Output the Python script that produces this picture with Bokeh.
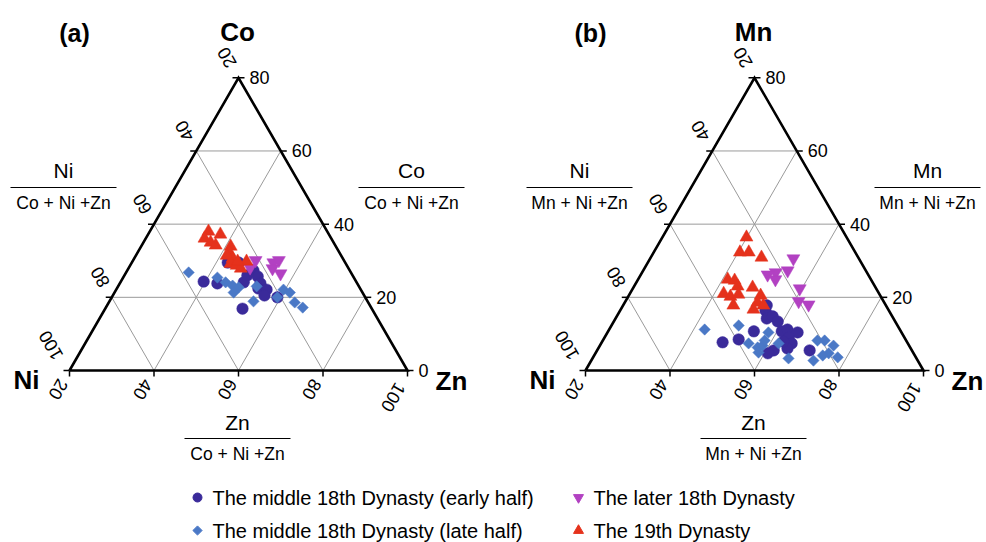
import math
from bokeh.plotting import figure
from bokeh.models import Range1d
from bokeh.core.properties import value
from bokeh.embed import file_html
from bokeh.resources import INLINE

# ---------------- data (percent values read on the ternary axes) ----------------
# Panel (a): Co (right axis) and Zn (bottom axis)
a_early_co = [24.3, 23.8, 29.5, 29.5, 24.1, 27.3, 25.7, 23.8, 22.4, 22.1, 20.5, 20.0, 16.9, 26.0]
a_early_zn = [39.6, 43.1, 42.7, 45.3, 49.2, 49.9, 51.7, 53.3, 53.5, 55.6, 55.9, 59.2, 52.5, 49.1]
a_late_co = [26.8, 25.4, 24.1, 23.2, 22.7, 21.3, 23.0, 18.9, 20.0, 22.1, 21.3, 18.6, 17.2]
a_late_zn = [34.8, 42.3, 44.9, 47.0, 48.7, 48.2, 52.8, 54.1, 59.2, 59.6, 61.5, 64.0, 66.6]
a_later_co = [30.1, 28.1, 29.5, 30.1, 27.9, 26.5]
a_later_zn = [49.0, 48.7, 53.5, 54.5, 54.1, 56.7]
a_19_co = [38.0, 37.2, 36.1, 35.0, 34.2, 33.9, 32.2, 30.6, 29.2, 28.7, 27.9, 29.8, 29.8, 31.4]
a_19_zn = [33.9, 37.1, 33.9, 35.9, 37.5, 41.2, 41.8, 43.3, 43.5, 45.2, 46.6, 47.0, 44.9, 41.5]

# Panel (b): Mn (right axis) and Zn (bottom axis)
b_early_mn = [17.8, 16.4, 15.0, 14.2, 14.8, 13.4, 10.7, 8.5, 7.7, 10.7, 11.2, 10.4, 9.0, 7.4, 6.0, 5.5, 4.7, 5.5, 7.9]
b_early_zn = [54.0, 54.4, 55.8, 55.8, 56.9, 58.8, 54.5, 52.0, 48.6, 61.1, 62.2, 65.0, 63.6, 65.1, 64.8, 61.8, 60.8, 70.3, 62.9]
b_late_mn = [11.2, 12.3, 7.4, 10.4, 6.3, 6.8, 4.9, 7.4, 3.3, 8.2, 8.2, 6.8, 4.7, 4.1, 3.6, 2.7, 8.2]
b_late_zn = [42.6, 50.1, 54.9, 58.1, 57.6, 58.5, 58.5, 62.0, 66.4, 70.8, 72.5, 75.3, 75.2, 74.1, 77.9, 72.6, 58.3]
b_later_mn = [30.6, 27.3, 26.8, 26.2, 24.9, 22.4, 18.9, 18.0]
b_later_zn = [53.9, 54.2, 51.6, 50.0, 52.5, 59.5, 61.0, 63.8]
b_19_mn = [36.4, 32.3, 32.3, 30.9, 24.9, 24.6, 23.0, 22.7, 21.0, 20.2, 20.8, 17.8, 20.5, 18.6, 16.7, 17.8]
b_19_zn = [39.9, 40.4, 42.5, 46.2, 41.2, 43.0, 44.5, 48.2, 42.2, 44.2, 45.8, 46.1, 51.2, 51.4, 51.4, 53.2]

series_names = ["The middle 18th Dynasty (early half)", "The middle 18th Dynasty (late half)",
                "The later 18th Dynasty", "The 19th Dynasty"]
top_ticks = [0, 20, 40, 60, 80]        # right-edge axis (Co / Mn)
left_ticks = [100, 80, 60, 40, 20]     # left-edge axis (Ni)
bottom_ticks = [20, 40, 60, 80, 100]   # bottom axis (Zn)

# ---------------- styling / layout ----------------
COLORS = ["#3a2a9a", "#4a78c6", "#b241c2", "#e5321c"]
MARKERS = ["circle", "square", "inverted_triangle", "triangle"]
SIZES = [11.5, 8, 13, 13]
ANGLES = [0, math.pi / 4, 0, 0]
FONT = value("Liberation Sans")

W, H = 986, 542
S = 4.225              # px per ternary unit
X0 = 20 - 69 / S       # data x at left page edge
YB = 370               # page y of triangle base
H3 = math.sqrt(3) / 2
OFF_A = 0.0
OFF_B = 516 / S


def px(xp):
    return X0 + xp / S


def py(yp):
    return (YB - yp) / S


def pt(c, z, off):
    return z + 0.5 * c + off, c * H3


def tern(cs, zs, off):
    xs = [z + 0.5 * c + off for c, z in zip(cs, zs)]
    ys = [c * H3 for c in cs]
    return xs, ys


p = figure(width=W, height=H, x_range=Range1d(px(0), px(W)), y_range=Range1d(py(H), py(0)),
           x_axis_type=None, y_axis_type=None, toolbar_location=None, output_backend="svg",
           min_border=0, outline_line_color=None)
p.background_fill_color = "white"


def txt(x, y, s, size, bold=False, align="center", baseline="middle", angle=0.0):
    p.text(x=[x], y=[y], text=[s], text_font=FONT, text_font_size=f"{size}px",
           text_font_style="bold" if bold else "normal", text_align=align,
           text_baseline=baseline, angle=angle, text_color="black")


def panel(off, top_el, label, data):
    # grid
    gx0, gy0, gx1, gy1 = [], [], [], []
    for c in [20, 40, 60]:
        a, b = pt(c, 20, off), pt(c, 100 - c, off)
        gx0.append(a[0]); gy0.append(a[1]); gx1.append(b[0]); gy1.append(b[1])
    for z in [40, 60, 80]:
        a, b = pt(0, z, off), pt(100 - z, z, off)
        gx0.append(a[0]); gy0.append(a[1]); gx1.append(b[0]); gy1.append(b[1])
        a, b = pt(0, z, off), pt(z - 20, 20, off)
        gx0.append(a[0]); gy0.append(a[1]); gx1.append(b[0]); gy1.append(b[1])
    p.segment(gx0, gy0, gx1, gy1, line_color="#9a9a9a", line_width=1)

    # ticks
    T = 6 / S
    tx0, ty0, tx1, ty1 = [], [], [], []
    for c in top_ticks:
        x, y = pt(c, 100 - c, off)
        tx0.append(x); ty0.append(y); tx1.append(x + T); ty1.append(y)
        x, y = pt(c, 20, off)
        tx0.append(x); ty0.append(y); tx1.append(x - T); ty1.append(y)
    for z in bottom_ticks:
        x, y = pt(0, z, off)
        tx0.append(x); ty0.append(y); tx1.append(x); ty1.append(y - T)
    p.segment(tx0, ty0, tx1, ty1, line_color="black", line_width=1.5)

    # outline
    cx, cy = zip(pt(0, 20, off), pt(0, 100, off), pt(80, 20, off), pt(0, 20, off))
    p.line(list(cx), list(cy), line_color="black", line_width=2.6, line_join="miter")

    # tick labels
    for c in top_ticks:
        x, y = pt(c, 100 - c, off)
        txt(x + 11 / S, y, str(c), 18, align="left")
    for c, lab in zip(top_ticks, left_ticks):
        x, y = pt(c, 20, off)
        dx, dy = (-19, -25) if lab >= 100 else (-12, -20)
        txt(x + dx / S, y - dy / S, str(lab), 18, angle=2 * math.pi / 3)
    for z in bottom_ticks:
        x, y = pt(0, z, off)
        dx, dy = (-14, 27) if z >= 100 else (-11, 19)
        txt(x + dx / S, y - dy / S, str(z), 18, angle=-2 * math.pi / 3)

    # data
    for i, (cs, zs) in enumerate(data):
        xs, ys = tern(cs, zs, off)
        p.scatter(xs, ys, marker=MARKERS[i], size=SIZES[i], angle=ANGLES[i],
                  fill_color=COLORS[i], line_color=COLORS[i], line_width=0.5)

    # corner labels
    o = off * S
    txt(px(74 + o), py(32), label, 25, bold=True)
    txt(px(237 + o), py(31), top_el, 26, bold=True)
    txt(px(26 + o), py(379), "Ni", 26, bold=True)
    txt(px(451 + o), py(380), "Zn", 26, bold=True)

    # fraction labels
    den = f"{top_el} + Ni +Zn"
    for (cxp, ytop, x0p, x1p, yl, ybot, num) in [
            (63, 170, 10, 116, 187, 202, "Ni"),
            (411, 170, 358, 464, 187, 202, top_el),
            (237, 422, 184, 290, 438, 453, "Zn")]:
        txt(px(cxp + o), py(ytop), num, 21)
        p.line([px(x0p + o), px(x1p + o)], [py(yl), py(yl)], line_color="black", line_width=1)
        txt(px(cxp + o), py(ybot), den, 17.5)


panel(OFF_A, "Co", "(a)", [(a_early_co, a_early_zn), (a_late_co, a_late_zn),
                           (a_later_co, a_later_zn), (a_19_co, a_19_zn)])
panel(OFF_B, "Mn", "(b)", [(b_early_mn, b_early_zn), (b_late_mn, b_late_zn),
                           (b_later_mn, b_later_zn), (b_19_mn, b_19_zn)])

# legend (2 columns x 2 rows)
LEG_POS = [(197, 497), (197, 530), (578, 497), (578, 530)]
LEG_SIZES = [9, 6.5, 10, 10]
for i, name in enumerate(series_names):
    lx, ly = LEG_POS[i]
    p.scatter([px(lx)], [py(ly)], marker=MARKERS[i], size=LEG_SIZES[i], angle=ANGLES[i],
              fill_color=COLORS[i], line_color=COLORS[i])
    txt(px(lx + 15), py(ly), name, 20, align="left")

open("out.html", "w").write(file_html(p, INLINE))
